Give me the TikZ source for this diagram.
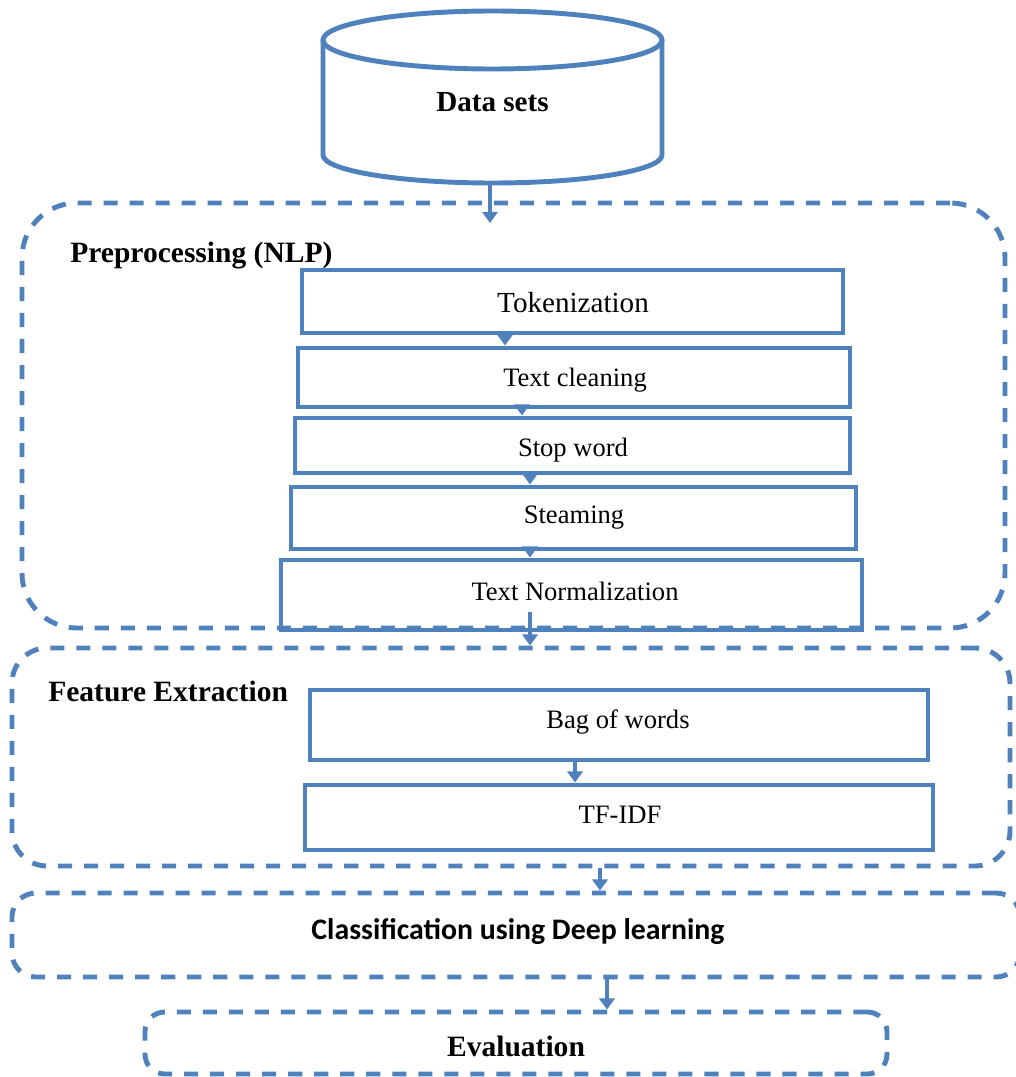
\documentclass[tikz,border=0pt]{standalone}
\usepackage{fontspec}
\setmainfont{Liberation Serif}
\newfontfamily\clsfont{Carlito}
\usepackage{xcolor}
\usetikzlibrary{arrows.meta,fit}

\definecolor{boxblue}{HTML}{4F81BD}

\tikzset{
	stage/.style={draw=boxblue, line width=3.5pt, inner sep=0pt},
	stagetext/.style={inner sep=0pt, font=\fontsize{18.9}{22}\selectfont},
	group/.style={draw=boxblue, line width=3.5pt, inner sep=0pt, dash pattern=on 10pt off 8.5pt},
	arr/.style={draw=boxblue, line width=3.5pt, -{Triangle[width=11pt,length=8pt]}},
	grouptitle/.style={anchor=west, inner sep=0pt, font=\fontsize{21}{24}\selectfont\bfseries}
}

\begin{document}
\begin{tikzpicture}[x=0.025cm, y=-0.025cm]
	\useasboundingbox (0,0) rectangle (1015,1077);

	% data base cylinder
	\draw[boxblue, line width=3.5pt] (492.5,40) ellipse [x radius=169.5, y radius=29];
	\draw[boxblue, line width=3.5pt] (323,40) -- (323,155)
		arc [start angle=180, end angle=0, x radius=169.5, y radius=28] -- (662,40);
	\node[inner sep=0pt, font=\fontsize{20.7}{24}\selectfont\bfseries] (data) at (492.5,102) {Data sets};
	\coordinate (dbot) at (490,183);
	\coordinate (dend) at (490,223);

	% preprocessing block
	\node[group, rounded corners=39pt, fit={(22,203) (1005,628)}] (prep) {};
	\node[grouptitle] (preptitle) at (70,256) {Preprocessing (NLP)};
	\node[stage, fit={(302,270) (843,333)}] (tok) {};
	\node[stage, fit={(298,348) (850,407)}] (clean) {};
	\node[stage, fit={(295,418) (850,473)}] (stop) {};
	\node[stage, fit={(291,487) (856,549)}] (steam) {};
	\node[stage, fit={(281,560) (862,630)}] (norm) {};
	\node[stagetext, font=\fontsize{20.7}{24}\selectfont] (toktext) at (573,303) {Tokenization};
	\node[stagetext] (cleantext) at (575,380) {Text cleaning};
	\node[stagetext] (stoptext) at (573,450) {Stop word};
	\node[stagetext] (steamtext) at (574,518) {Steaming};
	\node[stagetext] (normtext) at (575,591) {Text Normalization};

	% feature extraction block
	\node[group, rounded corners=25pt, fit={(12,648) (1010,866)}] (feat) {};
	\node[grouptitle] (feattitle) at (48,691) {Feature Extraction};
	\node[stage, fit={(310,690) (928,760)}] (bag) {};
	\node[stage, fit={(305,785) (933,850)}] (tfidf) {};
	\node[stagetext] (bagtext) at (618,722) {Bag of words};
	\node[stagetext] (tfidftext) at (620,815) {TF-IDF};

	% classification and evaluation
	\node[group, rounded corners=17pt, fit={(12,893) (1020,977)}] (cls) {};
	\node[group, rounded corners=14pt, fit={(145,1012) (887,1074)}] (eval) {};
	\node[inner sep=0pt, font=\fontsize{21.2}{24}\selectfont\clsfont\bfseries] (clstext) at (518,932) {Classification using Deep learning};
	\node[inner sep=0pt, font=\fontsize{21}{24}\selectfont\bfseries] (evaltext) at (516,1046) {Evaluation};

	% arrows
	\coordinate (a1) at (505,0);
	\coordinate (a2) at (522,0);
	\coordinate (a3) at (530,0);
	\coordinate (a4) at (530,612);
	\coordinate (a5) at (575,0);
	\coordinate (a6) at (600,0);
	\coordinate (a7) at (607,0);
	\draw[arr] (dbot) -- (dend);
	\draw[arr] (tok.south -| a1) -- (clean.north -| a1);
	\draw[arr] (clean.south -| a2) -- (stop.north -| a2);
	\draw[arr] (stop.south -| a3) -- (steam.north -| a3);
	\draw[arr] (steam.south -| a3) -- (norm.north -| a3);
	\draw[arr] (a4) -- (feat.north -| a4);
	\draw[arr] (bag.south -| a5) -- (tfidf.north -| a5);
	\draw[arr] (feat.south -| a6) -- (cls.north -| a6);
	\draw[arr] (cls.south -| a7) -- (eval.north -| a7);
\end{tikzpicture}
\end{document}
